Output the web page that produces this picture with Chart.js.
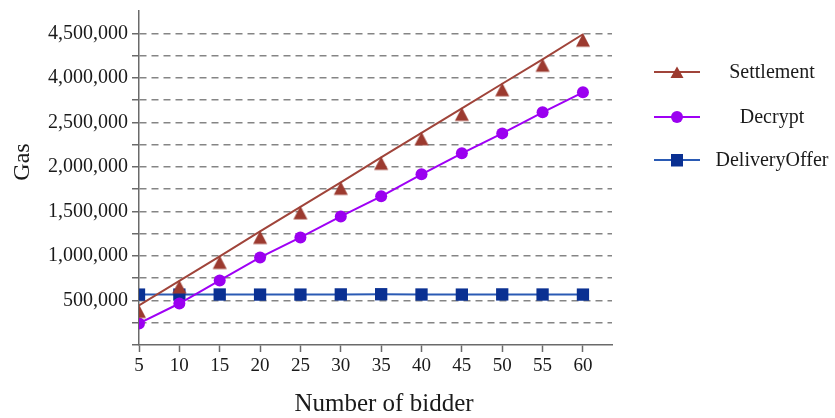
<!DOCTYPE html>
<html>
<head>
<meta charset="utf-8">
<script src="https://cdn.jsdelivr.net/npm/chart.js@4.4.1/dist/chart.umd.min.js"></script>
<style>
  html, body { margin: 0; padding: 0; background: #ffffff; }
  #wrap { width: 835px; height: 418px; }
</style>
</head>
<body>
<div id="wrap"><canvas id="c" width="835" height="418"></canvas></div>
<script>
// ---- data ----
const bidders = [5, 10, 15, 20, 25, 30, 35, 40, 45, 50, 55, 60];
const settlement = [444000, 719000, 994000, 1275000, 1551000, 1826000, 2107000, 2382000, 2657000, 2933000, 3208000, 3489000];
const decrypt = [242000, 466000, 725000, 983000, 1208000, 1444000, 1669000, 1916000, 2152000, 2376000, 2612000, 2837000];
const deliveryOffer = [566000, 566000, 567000, 566000, 566000, 568000, 570000, 567000, 566000, 568000, 567000, 566000];
const seriesNames = ['Settlement', 'Decrypt', 'DeliveryOffer'];
const yTickValues = [500000, 1000000, 1500000, 2000000, 2500000, 3000000, 3500000];
const yTickLabels = ['500,000', '1,000,000', '1,500,000', '2,000,000', '2,500,000', '4,000,000', '4,500,000'];
const xTitle = 'Number of bidder';
const yTitle = 'Gas';

// ---- styles ----
const SERIF = '"Liberation Serif", "Times New Roman", serif';
const colSettle = '#a0443a', colSettleMark = '#9c3a2f';
const colDec = '#9f00f5', colDecMark = '#9b00f0';
const colDel = '#2a5ab4', colDelMark = '#0a3092';
const gridCol = '#858585', axisCol = '#6a6a6a', textCol = '#1a1a1a';

// triangle marker hanging below its point
function makeTriangle(color) {
  const cv = document.createElement('canvas');
  cv.width = 16; cv.height = 30;
  const g = cv.getContext('2d');
  g.fillStyle = color;
  g.beginPath();
  g.moveTo(8, 14);
  g.lineTo(15, 27.5);
  g.lineTo(1, 27.5);
  g.closePath();
  g.fill();
  return cv;
}
const triImg = makeTriangle(colSettleMark);

const toXY = (arr) => arr.map((v, i) => ({ x: bidders[i], y: v }));

const customText = {
  id: 'customText',
  afterDraw(chart) {
    const ctx = chart.ctx;
    ctx.save();
    ctx.fillStyle = textCol;
    // axis titles
    ctx.font = '25px ' + SERIF;
    ctx.textAlign = 'center';
    ctx.textBaseline = 'middle';
    ctx.fillText(xTitle, 384, 404);
    ctx.font = '24px ' + SERIF;
    ctx.save();
    ctx.translate(23, 162);
    ctx.rotate(-Math.PI / 2);
    ctx.fillText(yTitle, 0, 0);
    ctx.restore();
    // legend
    const ys = [72, 117, 160];
    chart.data.datasets.forEach((ds, i) => {
      const y = ys[i];
      ctx.strokeStyle = ds.borderColor;
      ctx.lineWidth = 2;
      ctx.beginPath();
      ctx.moveTo(654, y);
      ctx.lineTo(700, y);
      ctx.stroke();
      ctx.fillStyle = ds.pointBackgroundColor;
      ctx.beginPath();
      if (i === 0) {
        ctx.moveTo(677, 66.5);
        ctx.lineTo(683.5, 78);
        ctx.lineTo(670.5, 78);
        ctx.closePath();
      } else if (i === 1) {
        ctx.arc(677, y, 6, 0, Math.PI * 2);
      } else {
        ctx.rect(671, y - 6, 12, 12.5);
      }
      ctx.fill();
      ctx.fillStyle = textCol;
      ctx.font = '20px ' + SERIF;
      ctx.textAlign = 'center';
      ctx.textBaseline = 'middle';
      ctx.fillText(seriesNames[i], 772, y + 1);
    });
    ctx.restore();
  }
};

new Chart(document.getElementById('c'), {
  type: 'line',
  data: {
    datasets: [
      {
        label: seriesNames[0], data: toXY(settlement),
        borderColor: colSettle, borderWidth: 2,
        pointStyle: triImg, pointBackgroundColor: colSettleMark, pointBorderWidth: 0,
        pointRadius: 8
      },
      {
        label: seriesNames[1], data: toXY(decrypt),
        borderColor: colDec, borderWidth: 2,
        pointStyle: 'circle', pointBackgroundColor: colDecMark, pointBorderColor: colDecMark,
        pointBorderWidth: 0, pointRadius: 6
      },
      {
        label: seriesNames[2], data: toXY(deliveryOffer),
        borderColor: colDel, borderWidth: 2,
        pointStyle: 'rect', pointBackgroundColor: colDelMark, pointBorderColor: colDelMark,
        pointBorderWidth: 0, pointRadius: 8.7
      }
    ]
  },
  options: {
    responsive: false,
    animation: false,
    events: [],
    layout: { padding: { left: 0, right: 223, top: 11, bottom: 0 } },
    plugins: { legend: { display: false }, tooltip: { enabled: false }, title: { display: false } },
    scales: {
      x: {
        type: 'linear',
        min: 5,
        max: 63.6,
        afterBuildTicks: (s) => { s.ticks = bidders.map(v => ({ value: v })); },
        afterFit: (s) => { s.height = 73; s.paddingLeft = 0; s.paddingRight = 0; },
        ticks: {
          autoSkip: false, maxRotation: 0, padding: 3,
          color: textCol, font: { family: SERIF, size: 19 },
          callback: (v) => String(v)
        },
        grid: {
          drawOnChartArea: false, drawTicks: true, tickLength: 7,
          tickColor: axisCol, tickWidth: 1.5
        },
        border: { display: true, color: axisCol, width: 1.5 }
      },
      y: {
        type: 'linear',
        min: 0,
        max: 3750000,
        ticks: {
          stepSize: 250000, autoSkip: false, padding: 4,
          color: textCol, font: { family: SERIF, size: 20 },
          callback: (v) => {
            const i = yTickValues.indexOf(v);
            return i >= 0 ? yTickLabels[i] : '';
          }
        },
        afterFit: (s) => { s.width = 139; s.paddingTop = 0; s.paddingBottom = 0; },
        grid: {
          drawTicks: true, tickLength: 7,
          color: (ctx) => (ctx.tick && (ctx.tick.value === 0 || ctx.tick.value >= 3750000)) ? 'rgba(0,0,0,0)' : gridCol,
          lineWidth: 1.5,
          tickColor: (ctx) => (ctx.tick && ctx.tick.value >= 3750000) ? 'rgba(0,0,0,0)' : axisCol,
          tickWidth: 1.5,
          tickBorderDash: []
        },
        border: { display: true, color: axisCol, width: 1.5, dash: [7, 5] }
      }
    }
  },
  plugins: [customText]
});
</script>
</body>
</html>
